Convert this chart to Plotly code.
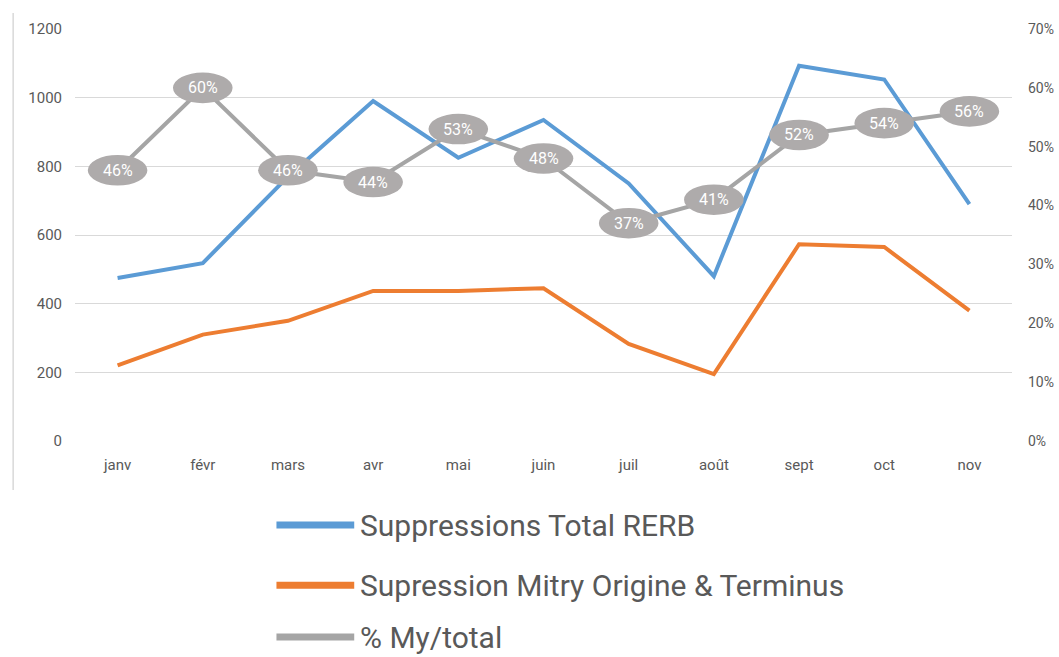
import plotly.graph_objects as go

mois = ["janv", "févr", "mars", "avr", "mai", "juin", "juil", "août", "sept", "oct", "nov"]
total_rerb = [475, 518, 770, 990, 825, 935, 750, 480, 1093, 1053, 690]
mitry = [220, 310, 350, 437, 437, 445, 283, 195, 573, 565, 380]
pct_my = [0.46, 0.60, 0.46, 0.44, 0.53, 0.48, 0.37, 0.41, 0.52, 0.54, 0.56]

noms = ["Suppressions Total RERB", "Supression Mitry Origine & Terminus", "% My/total"]
couleurs = ["#5B9BD5", "#ED7D31", "#A5A5A5"]

fig = go.Figure()
fig.add_trace(go.Scatter(x=mois, y=total_rerb, mode="lines", name=noms[0],
                         line=dict(color=couleurs[0], width=4)))
fig.add_trace(go.Scatter(x=mois, y=mitry, mode="lines", name=noms[1],
                         line=dict(color=couleurs[1], width=4)))
fig.add_trace(go.Scatter(x=mois, y=pct_my, mode="lines", name=noms[2], yaxis="y2",
                         line=dict(color=couleurs[2], width=4)))

# etiquettes en ellipses grises
shapes = []
annots = []
for i, v in enumerate(pct_my):
    shapes.append(dict(type="circle", xref="x", yref="y2", layer="above",
                       x0=i - 0.35, x1=i + 0.35, y0=v - 0.026, y1=v + 0.026,
                       fillcolor="#AEABAB", line=dict(width=0)))
    annots.append(dict(x=mois[i], y=v, yref="y2", text=f"{v:.0%}", showarrow=False,
                       font=dict(color="white", size=16, family="Roboto")))

# bordure gauche du graphique
shapes.append(dict(type="line", xref="paper", yref="paper", x0=-0.066, x1=-0.066,
                   y0=1.039, y1=-0.119, line=dict(color="#D9D9D9", width=1.5)))

# legende manuelle
leg_y = [-0.204, -0.350, -0.476]
for nom, c, yy in zip(noms, couleurs, leg_y):
    shapes.append(dict(type="line", xref="paper", yref="paper", x0=0.215, x1=0.298,
                       y0=yy, y1=yy, line=dict(color=c, width=7)))
    annots.append(dict(xref="paper", yref="paper", x=0.302, y=yy, text=nom,
                       showarrow=False, xanchor="left", yanchor="middle",
                       font=dict(color="#595959", size=30, family="Roboto")))

fig.update_layout(
    width=1059, height=657,
    margin=dict(l=75, r=47, t=29, b=216),
    paper_bgcolor="white", plot_bgcolor="white",
    showlegend=False,
    font=dict(family="Roboto", color="#595959", size=15),
    xaxis=dict(type="category", range=[-0.5, 10.5], showgrid=False, showline=False,
               zeroline=False, ticks="", ticklabelstandoff=13, tickfont=dict(size=15)),
    yaxis=dict(range=[0, 1200], dtick=200, showgrid=True, gridcolor="#D9D9D9",
               gridwidth=1, zeroline=False, showline=False, ticks="",
               ticklabelstandoff=12),
    yaxis2=dict(range=[0, 0.7], dtick=0.1, tickformat=".0%", overlaying="y",
                side="right", showgrid=False, zeroline=False, showline=False,
                ticks="", ticklabelstandoff=15, automargin=False,
                tickfont=dict(size=14)),
    shapes=shapes,
    annotations=annots,
)

# pas de marge autour du graphique dans la page
fig.write_html("out.html", config={"displayModeBar": False},
               post_script="document.body.style.margin='0';document.body.style.overflow='hidden';")
